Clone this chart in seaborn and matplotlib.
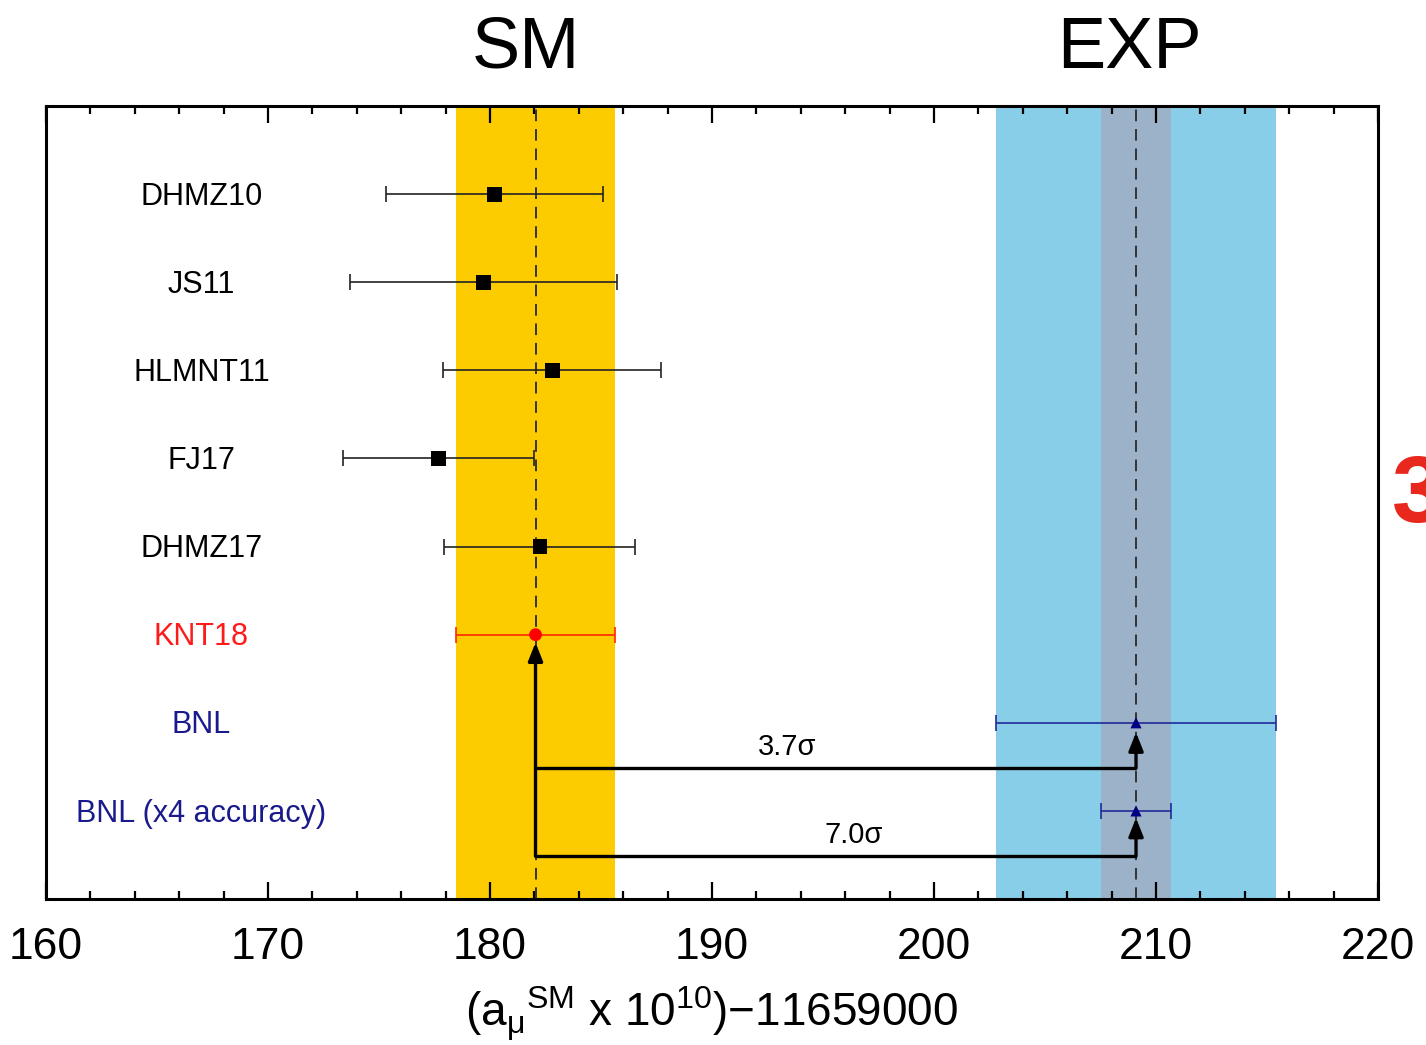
import numpy as np
import pandas as pd
import matplotlib
matplotlib.use("Agg")
import matplotlib.pyplot as plt
import seaborn as sns
from matplotlib.ticker import MultipleLocator
import matplotlib.transforms as mtransforms

# ---------------- data ----------------
labels = ["DHMZ10", "JS11", "HLMNT11", "FJ17", "DHMZ17", "KNT18", "BNL", "BNL (x4 accuracy)"]
values = [180.2, 179.7, 182.8, 177.7, 182.25, 182.05, 209.1, 209.1]
errors = [4.9, 6.0, 4.9, 4.3, 4.3, 3.56, 6.3, 1.58]
groups = ["theory", "theory", "theory", "theory", "theory", "KNT18", "exp", "exp"]
sm_center, sm_err = 182.05, 3.56
exp_center, exp_err, exp_err_x4 = 209.1, 6.3, 1.58
sigma_labels = ["3.7σ", "7.0σ"]
x_ticks = [160, 170, 180, 190, 200, 210, 220]

rows = list(range(1, len(labels) + 1))
df = pd.DataFrame({"label": labels, "value": values, "err": errors,
                   "group": groups, "row": rows})

colors = {"theory": "black", "KNT18": "#FF0000", "exp": "#000080"}
ecolors = {"theory": "#222222", "KNT18": "#FF2A00", "exp": "#1F2A9A"}
text_colors = {"theory": "#000000", "KNT18": "#FF1A1A", "exp": "#1A1A8C"}

# ---------------- style ----------------
sns.set_theme(style="white")
plt.rcParams["font.family"] = ["Liberation Sans", "DejaVu Sans"]
plt.rcParams["mathtext.fontset"] = "custom"
plt.rcParams["mathtext.rm"] = "Liberation Sans"
plt.rcParams["mathtext.it"] = "Liberation Sans:italic"
plt.rcParams["mathtext.bf"] = "Liberation Sans:bold"
plt.rcParams["text.color"] = "black"
plt.rcParams["axes.labelcolor"] = "black"
plt.rcParams["xtick.color"] = "black"

fig = plt.figure(figsize=(14.26, 10.45), dpi=100)
ax = fig.add_axes([46 / 1426, 1 - 899 / 1045, (1378 - 46) / 1426, (899 - 106) / 1045])

# bands
ax.axvspan(sm_center - sm_err, sm_center + sm_err, color="#FCCB00", lw=0, zorder=0)
ax.axvspan(exp_center - exp_err, exp_center + exp_err, color="#88CEE8", lw=0, zorder=0)
ax.axvspan(exp_center - exp_err_x4, exp_center + exp_err_x4, color="#9CB2C9", lw=0, zorder=0.5)
for c in (sm_center, exp_center):
    ax.axvline(c, color="#333333", lw=1.4, dashes=(6, 4), zorder=1)

# error bars
for _, r in df.iterrows():
    ax.errorbar(r["value"], r["row"], xerr=r["err"], fmt="none",
                ecolor=ecolors[r["group"]], elinewidth=1.2, capsize=6,
                capthick=1.2, zorder=2)

# markers
sns.scatterplot(data=df, x="value", y="row", hue="group", style="group",
                size="group",
                palette=colors,
                markers={"theory": "s", "KNT18": "o", "exp": "^"},
                sizes={"theory": 115, "KNT18": 85, "exp": 65},
                edgecolor="none", legend=False, ax=ax, zorder=4)

# row labels
for _, r in df.iterrows():
    ax.text(167, r["row"] + 0.03, r["label"], ha="center", va="center",
            fontsize=22, color=text_colors[r["group"]])

# pull arrows
knt_row = rows[labels.index("KNT18")]
bnl_row = rows[labels.index("BNL")]
bnl4_row = rows[labels.index("BNL (x4 accuracy)")]
arrow_kw = dict(arrowstyle="-|>,head_length=0.55,head_width=0.22",
                color="black", lw=2.4, shrinkA=0, shrinkB=0, mutation_scale=20)

y_low = bnl4_row + 0.515
y_mid = bnl_row + 0.515
ax.annotate("", xy=(sm_center, knt_row + 0.09), xytext=(sm_center, y_low),
            arrowprops=arrow_kw, zorder=3)
ax.plot([sm_center, exp_center], [y_mid, y_mid], color="black", lw=2.4,
        solid_capstyle="butt", zorder=3)
ax.plot([sm_center, exp_center], [y_low, y_low], color="black", lw=2.4,
        solid_capstyle="butt", zorder=3)
ax.annotate("", xy=(exp_center, bnl_row + 0.11), xytext=(exp_center, y_mid),
            arrowprops=arrow_kw, zorder=3)
ax.annotate("", xy=(exp_center, bnl4_row + 0.08), xytext=(exp_center, y_low),
            arrowprops=arrow_kw, zorder=3)
ax.text(193.4, y_mid - 0.08, sigma_labels[0], ha="center", va="bottom", fontsize=21)
ax.text(196.4, y_low - 0.08, sigma_labels[1], ha="center", va="bottom", fontsize=21)

# axes
ax.set_xlim(160, 220)
ax.set_ylim(9, 0)
ax.set_yticks([])
ax.set_ylabel("")
ax.set_xticks(x_ticks)
ax.xaxis.set_minor_locator(MultipleLocator(2))
ax.tick_params(axis="x", which="major", direction="in", length=12, width=1.6,
               top=True, bottom=True, labelsize=32, pad=20, colors="black")
ax.tick_params(axis="x", which="minor", direction="in", length=6, width=1.6,
               top=True, bottom=True)
for s in ax.spines.values():
    s.set_visible(True)
    s.set_linewidth(2.2)
    s.set_color("black")
ax.set_xlabel(r"$(\mathrm{a}_{\mathrm{\mu}}{}^{\mathrm{SM}}$ x 10$^{10}$)$-$11659000",
              fontsize=33, labelpad=12)

# SM / EXP headers
trans = mtransforms.blended_transform_factory(ax.transData, ax.transAxes)
ax.text(181.6, 1.048, "SM", transform=trans, ha="center", va="baseline", fontsize=52)
ax.text(208.8, 1.048, "EXP", transform=trans, ha="center", va="baseline", fontsize=52)

# clipped red label at the right edge (as in the reference)
fig.text(1392 / 1426, 1 - 522 / 1045, "3", color="#E8281C", fontsize=68,
         fontweight="bold", ha="left", va="baseline")

fig.savefig("out.png", dpi=100)
